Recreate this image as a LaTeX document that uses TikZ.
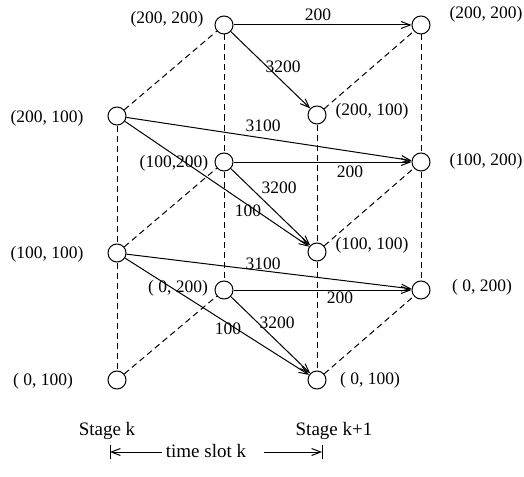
\documentclass[tikz,border=0pt]{standalone}
\usepackage{fontspec}
\setmainfont{Liberation Serif}
\usetikzlibrary{arrows.meta}
\tikzset{
  st/.style={circle, draw, line width=1pt, minimum size=18pt, inner sep=0pt},
  dsh/.style={dashed, dash pattern=on 6pt off 4pt, line width=1pt},
  arr/.style={line width=1pt, -{Straight Barb[length=9pt,width=7pt,line width=1pt]}},
  lbl/.style={inner sep=0pt, font=\fontsize{17.5}{20}\selectfont},
  big/.style={inner sep=0pt, font=\fontsize{19}{22}\selectfont},
}
\begin{document}
\begin{tikzpicture}[x=1pt, y=-1pt]
\useasboundingbox (0,0) rectangle (524,476);
% stage k
\node[st] (a22) at (224,25) {};
\node[st] (a21) at (117,116) {};
\node[st] (a12) at (224,162) {};
\node[st] (a11) at (117,253) {};
\node[st] (a02) at (224,290) {};
\node[st] (a01) at (117,380) {};
% stage k+1
\node[st] (b22) at (421,25) {};
\node[st] (b21) at (317,115) {};
\node[st] (b12) at (421,162) {};
\node[st] (b11) at (317,252) {};
\node[st] (b02) at (421,290) {};
\node[st] (b01) at (317,380) {};
% dashed structure
\foreach \s in {a,b} {
  \draw[dsh] (\s22) -- (\s12);
  \draw[dsh] (\s12) -- (\s02);
  \draw[dsh] (\s21) -- (\s11);
  \draw[dsh] (\s11) -- (\s01);
  \draw[dsh] (\s21) -- (\s22);
  \draw[dsh] (\s11) -- (\s12);
  \draw[dsh] (\s01) -- (\s02);
}
% transitions
\draw[arr] (a22) -- (b22);
\draw[arr] (a22) -- (b21);
\draw[arr] (a21) -- (b12);
\draw[arr] (a21) -- (b11);
\draw[arr] (a12) -- (b12);
\draw[arr] (a12) -- (b11);
\draw[arr] (a11) -- (b02);
\draw[arr] (a11) -- (b01);
\draw[arr] (a02) -- (b02);
\draw[arr] (a02) -- (b01);
% edge labels
\node[lbl] (e1) at (318,15) {200};
\node[lbl] (e2) at (283,67) {3200};
\node[lbl] (e3) at (263,126) {3100};
\node[lbl] (e4) at (248,211) {100};
\node[lbl] (e5) at (350,172) {200};
\node[lbl] (e6) at (279,188) {3200};
\node[lbl] (e7) at (263,264) {3100};
\node[lbl] (e8) at (228,329) {100};
\node[lbl] (e9) at (340,298) {200};
\node[lbl] (e10) at (277,323) {3200};
% state labels stage k
\node[lbl] (ta22) at (167,19) {(200, 200)};
\node[lbl] (ta21) at (47,118) {(200, 100)};
\node[lbl] (ta12) at (174,163) {(100,200)};
\node[lbl] (ta11) at (47,254) {(100, 100)};
\node[lbl] (ta02) at (178,288) {( 0, 200)};
\node[lbl] (ta01) at (43,381) {( 0, 100)};
% state labels stage k+1
\node[lbl] (tb22) at (486,14) {(200, 200)};
\node[lbl] (tb21) at (372,111) {(200, 100)};
\node[lbl] (tb12) at (486,161) {(100, 200)};
\node[lbl] (tb11) at (372,245) {(100, 100)};
\node[lbl] (tb02) at (482,287) {( 0, 200)};
\node[lbl] (tb01) at (370,380) {( 0, 100)};
% bottom
\node[big] (sk) at (107,431) {Stage k};
\node[big] (sk1) at (334,431) {Stage k+1};
\node[big] (ts) at (206,451) {time slot k};
\coordinate (lb) at (110,452);
\coordinate (rb) at (322,452);
\draw[line width=1pt] ([yshift=-7pt]lb) -- ([yshift=7pt]lb);
\draw[line width=1pt] ([yshift=-7pt]rb) -- ([yshift=7pt]rb);
\draw[arr] ([xshift=-4pt]ts.west |- lb) -- (lb);
\draw[arr] ([xshift=18pt]ts.east |- rb) -- (rb);
\end{tikzpicture}
\end{document}
